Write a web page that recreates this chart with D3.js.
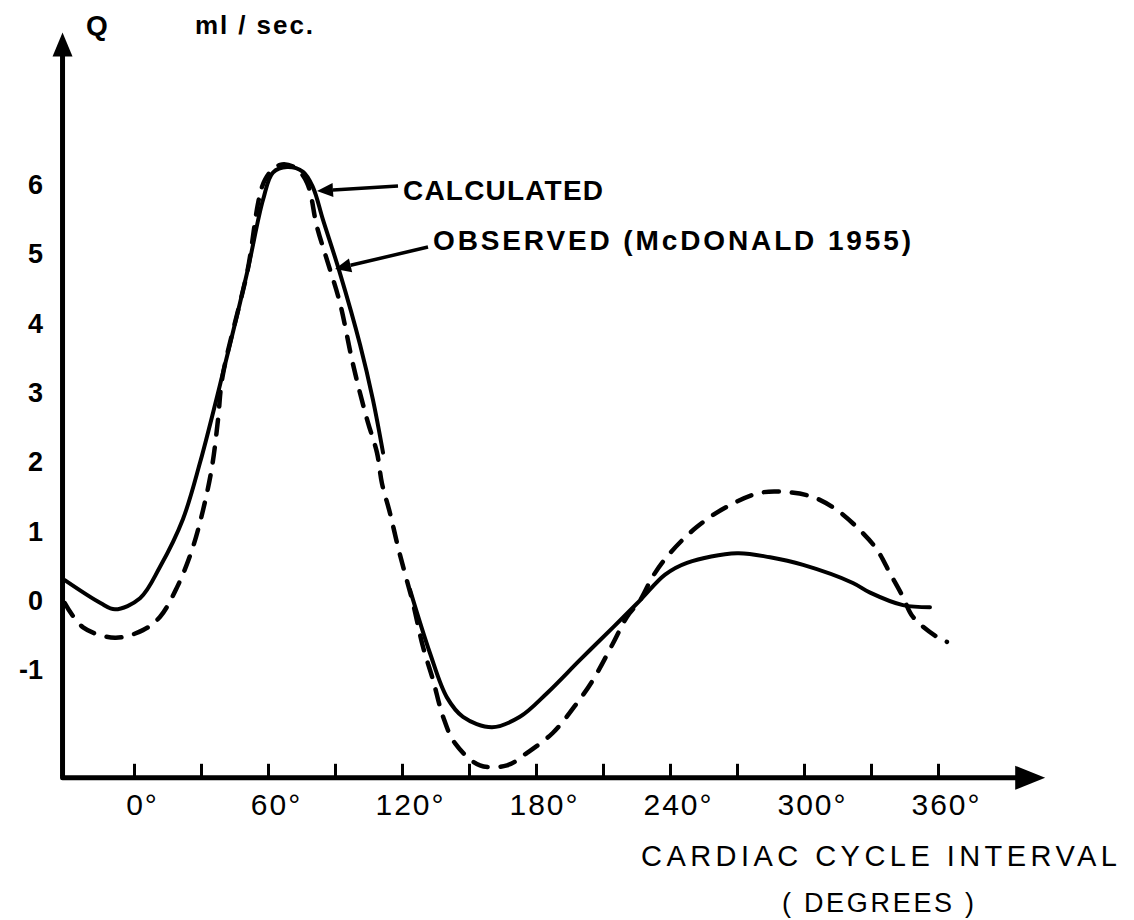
<!DOCTYPE html>
<html>
<head>
<meta charset="utf-8">
<script src="https://cdn.jsdelivr.net/npm/d3@7"></script>
<style>
  body { margin: 0; background: #fff; }
  text { font-family: "Liberation Sans", Arial, sans-serif; fill: #000; }
</style>
</head>
<body>
<script>
// calculated flow (solid), degrees vs ml/sec, null = gap in the drawn line
const calcDeg = [-31, -15, -8.5, 2.7, 11.6, 21.9, 29.6, 39.9, 50.6, 57.8, 62.2, 68.5, 75.7, 80.1, 84.6, 92.2, 101.2, 107.0, 111.5,
  null, 123.6, 132.5, 140.1, 147.3, 160.3, 172.8, 184.9, 199.7, 214.5, 226.6, 237.8, 247.6, 270.0, 284.8, 299.6, 321.9, 329.6, 344.3, 356.4];
const calcQ = [0.30, -0.03, -0.12, 0.04, 0.49, 1.18, 2.0, 3.30, 4.73, 5.79, 6.18, 6.26, 6.19, 5.97, 5.50, 4.73, 3.70, 2.90, 2.14,
  null, 0.16, -0.75, -1.39, -1.67, -1.82, -1.67, -1.33, -0.85, -0.38, 0.01, 0.38, 0.55, 0.69, 0.63, 0.52, 0.26, 0.12, -0.06, -0.09];

// observed flow (dashed), McDonald 1955
const obsDeg = [-31, -22.8, -8.5, 4.0, 11.6, 19.3, 26.0, 30.9, 34.9, 37.6, 39.6, 50.6, 58.7, 65.4, 72.1, 77.5, 81.9, 86.4, 92.2, 97.6,
  101.2, 104.8, 108.8, 111.0, 114.6, 118.2, 121.3, 124.9, 129.4, 133.9, 138.4, 143.7, 154.9, 167.0, 176.0, 187.6, 198.4, 205.5,
  214.5, 220.7, 226.6, 232.4, 240.0, 252.1, 265.5, 280.3, 292.4, 304.0, 314.8, 325.1, 332.7, 338.5, 344.3, 348.8, 359.6, 364.0];
const obsQ = [-0.03, -0.38, -0.53, -0.42, -0.23, 0.20, 0.74, 1.31, 1.93, 2.61, 3.23, 4.73, 6.08, 6.29, 6.25, 6.03, 5.40, 4.92, 4.30, 3.48,
  3.00, 2.57, 2.14, 1.70, 1.27, 0.78, 0.40, -0.03, -0.66, -1.14, -1.67, -2.05, -2.37, -2.37, -2.19, -1.90, -1.47, -1.14,
  -0.61, -0.23, 0.01, 0.36, 0.69, 1.07, 1.36, 1.56, 1.57, 1.50, 1.31, 1.02, 0.74, 0.40, 0.06, -0.23, -0.52, -0.59];

const xTicks = [0, 30, 60, 90, 120, 150, 180, 210, 240, 270, 300, 330, 360];
const xLabels = [0, 60, 120, 180, 240, 300, 360];
const yLabels = [6, 5, 4, 3, 2, 1, 0, -1];

const W = 1134, H = 920;

const x = d3.scaleLinear().domain([0, 360]).range([134, 938]);
const y = d3.scaleLinear().domain([0, 6]).range([601, 185]);

const svg = d3.select("body").append("svg")
  .attr("width", W)
  .attr("height", H);

const x0 = x(-32), yBase = y(-2.55);
const xEnd = x(408), yTop = y(8.2);

// axes lines with arrow heads
const axes = svg.append("g");
axes.append("path")
  .attr("d", `M${x0},${yTop + 10} L${x0},${yBase} L${xEnd - 10},${yBase}`)
  .attr("fill", "none")
  .attr("stroke", "#000")
  .attr("stroke-width", 5)
  .attr("stroke-linejoin", "round");
axes.append("path")
  .attr("d", `M${x0},${yTop} L${x0 - 10},${yTop + 24} L${x0 + 10},${yTop + 24} Z`)
  .attr("fill", "#000");
axes.append("path")
  .attr("d", `M${xEnd},${yBase} L${xEnd - 30},${yBase - 12} L${xEnd - 30},${yBase + 12} Z`)
  .attr("fill", "#000");

// x ticks pointing up, labels every 60 degrees
const xAxis = d3.axisBottom(x)
  .tickValues(xTicks)
  .tickSizeInner(-14)
  .tickSizeOuter(0)
  .tickPadding(16)
  .tickFormat(d => xLabels.includes(d) ? d + "°" : "");
const gx = svg.append("g")
  .attr("transform", `translate(0,${yBase})`)
  .call(xAxis);
gx.select(".domain").remove();
gx.selectAll(".tick line").attr("stroke", "#000").attr("stroke-width", 3);
gx.selectAll(".tick text")
  .attr("font-size", 30)
  .attr("font-family", "Liberation Sans")
  .attr("letter-spacing", 2)
  .attr("dx", 8)
  .attr("fill", "#000");

// y labels, no tick marks
const yAxis = d3.axisLeft(y)
  .tickValues(yLabels)
  .tickSize(0)
  .tickPadding(0)
  .tickFormat(d => d < 0 ? "-" + Math.abs(d) : d);
const gy = svg.append("g")
  .attr("transform", "translate(43,0)")
  .call(yAxis);
gy.select(".domain").remove();
gy.selectAll(".tick text")
  .attr("font-size", 27)
  .attr("font-weight", "bold")
  .attr("font-family", "Liberation Sans")
  .attr("fill", "#000");

// axis titles
svg.append("text").attr("x", 97).attr("y", 35).attr("text-anchor", "middle")
  .attr("font-size", 28).attr("font-weight", "bold").text("Q");
svg.append("text").attr("x", 195).attr("y", 34)
  .attr("font-size", 26).attr("font-weight", "bold")
  .attr("textLength", 118).attr("lengthAdjust", "spacing").text("ml / sec.");
svg.append("text").attr("x", 641).attr("y", 866)
  .attr("font-size", 29)
  .attr("textLength", 476).attr("lengthAdjust", "spacing").text("CARDIAC  CYCLE  INTERVAL");
svg.append("text").attr("x", 782).attr("y", 912)
  .attr("font-size", 27)
  .attr("textLength", 192).attr("lengthAdjust", "spacing").text("( DEGREES )");

// curves
const line = d3.line()
  .defined(d => d[0] !== null)
  .x(d => x(d[0]))
  .y(d => y(d[1]))
  .curve(d3.curveCatmullRom.alpha(0.5));

const calc = calcDeg.map((d, i) => [d, calcQ[i]]);
const obs = obsDeg.map((d, i) => [d, obsQ[i]]);

svg.append("path")
  .attr("d", line(obs))
  .attr("fill", "none")
  .attr("stroke", "#000")
  .attr("stroke-width", 4.5)
  .attr("stroke-linecap", "round")
  .attr("stroke-dasharray", "15,13");

svg.append("path")
  .attr("d", line(calc))
  .attr("fill", "none")
  .attr("stroke", "#000")
  .attr("stroke-width", 4)
  .attr("stroke-linecap", "round");

// annotations with arrows
function arrow(x1, y1, x2, y2) {
  const g = svg.append("g");
  const a = Math.atan2(y2 - y1, x2 - x1);
  const len = 16, wid = 7;
  const bx = x2 - len * Math.cos(a), by = y2 - len * Math.sin(a);
  g.append("line").attr("x1", x1).attr("y1", y1).attr("x2", bx).attr("y2", by)
    .attr("stroke", "#000").attr("stroke-width", 3.5);
  g.append("path")
    .attr("d", `M${x2},${y2} L${bx - wid * Math.sin(a)},${by + wid * Math.cos(a)} L${bx + wid * Math.sin(a)},${by - wid * Math.cos(a)} Z`)
    .attr("fill", "#000");
}
arrow(398, 186, 317, 191);
arrow(428, 247, 335, 269);

svg.append("text").attr("x", 403).attr("y", 200)
  .attr("font-size", 28).attr("font-weight", "bold")
  .attr("textLength", 200).attr("lengthAdjust", "spacing").text("CALCULATED");
svg.append("text").attr("x", 433).attr("y", 250)
  .attr("font-size", 28).attr("font-weight", "bold")
  .attr("textLength", 478).attr("lengthAdjust", "spacing").text("OBSERVED  (McDONALD  1955)");
</script>
</body>
</html>
